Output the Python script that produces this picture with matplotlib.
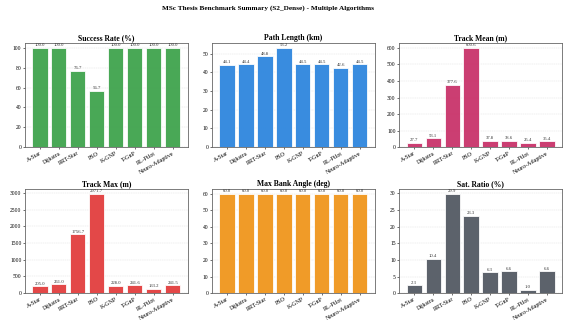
import matplotlib
matplotlib.use("Agg")
import matplotlib.pyplot as plt

plt.rcParams['font.family'] = ['Liberation Serif', 'DejaVu Serif']

algorithms = ["A-Star", "Dijkstra", "RRT-Star", "PSO", "K-GNP", "T-GnP", "RL-Pilot", "Neuro-Adaptive"]

success_rate = [100.0, 100.0, 76.7, 56.7, 100.0, 100.0, 100.0, 100.0]
path_length = [44.1, 44.4, 48.8, 53.2, 44.5, 44.5, 42.6, 44.5]
track_mean = [27.7, 53.1, 377.6, 600.6, 37.8, 38.6, 25.4, 35.4]
track_max = [205.0, 261.0, 1756.7, 2971.7, 228.0, 241.6, 133.2, 241.5]
max_bank = [60.0, 60.0, 60.0, 60.0, 60.0, 60.0, 60.0, 60.0]
sat_ratio = [2.3, 10.4, 29.9, 23.3, 6.3, 6.6, 1.0, 6.6]

panels = [
    ("Success Rate (%)", success_rate, "#3fa34d"),
    ("Path Length (km)", path_length, "#2e86de"),
    ("Track Mean (m)", track_mean, "#c9336a"),
    ("Track Max (m)", track_max, "#e23e3e"),
    ("Max Bank Angle (deg)", max_bank, "#f0961c"),
    ("Sat. Ratio (%)", sat_ratio, "#535a63"),
]

fig, axes = plt.subplots(2, 3, figsize=(5.67, 3.2), dpi=100)
fig.subplots_adjust(left=0.044, right=0.991, top=0.866, bottom=0.084,
                    wspace=0.15, hspace=0.40)
fig.suptitle("MSc Thesis Benchmark Summary (S2_Dense) - Multiple Algorithms",
             fontsize=5.2, fontweight="bold", x=0.472, y=0.985)

x = list(range(len(algorithms)))
for ax, (title, values, color) in zip(axes.flat, panels):
    bars = ax.bar(x, values, color=color, edgecolor="white", linewidth=0.6,
                  alpha=0.95, zorder=2)
    ax.set_title(title, fontsize=5.5, fontweight="bold", pad=2)
    ax.set_xticks(x)
    ax.set_xticklabels(algorithms, rotation=30, ha="right", fontsize=4.3,
                       rotation_mode="anchor")
    ax.tick_params(axis="y", labelsize=4.0, length=1.5, width=0.4, pad=1)
    ax.tick_params(axis="x", length=1.5, width=0.4, pad=1)
    ax.grid(axis="y", linestyle="--", linewidth=0.3, color="#dddddd", zorder=0)
    for s in ax.spines.values():
        s.set_color("#666666")
        s.set_linewidth(0.6)
    top = max(values)
    for b, v in zip(bars, values):
        ax.text(b.get_x() + b.get_width() / 2, v + top * 0.005, f"{v:.1f}",
                ha="center", va="bottom", fontsize=3.4, color="#333333")

fig.savefig("out.png", dpi=100)
